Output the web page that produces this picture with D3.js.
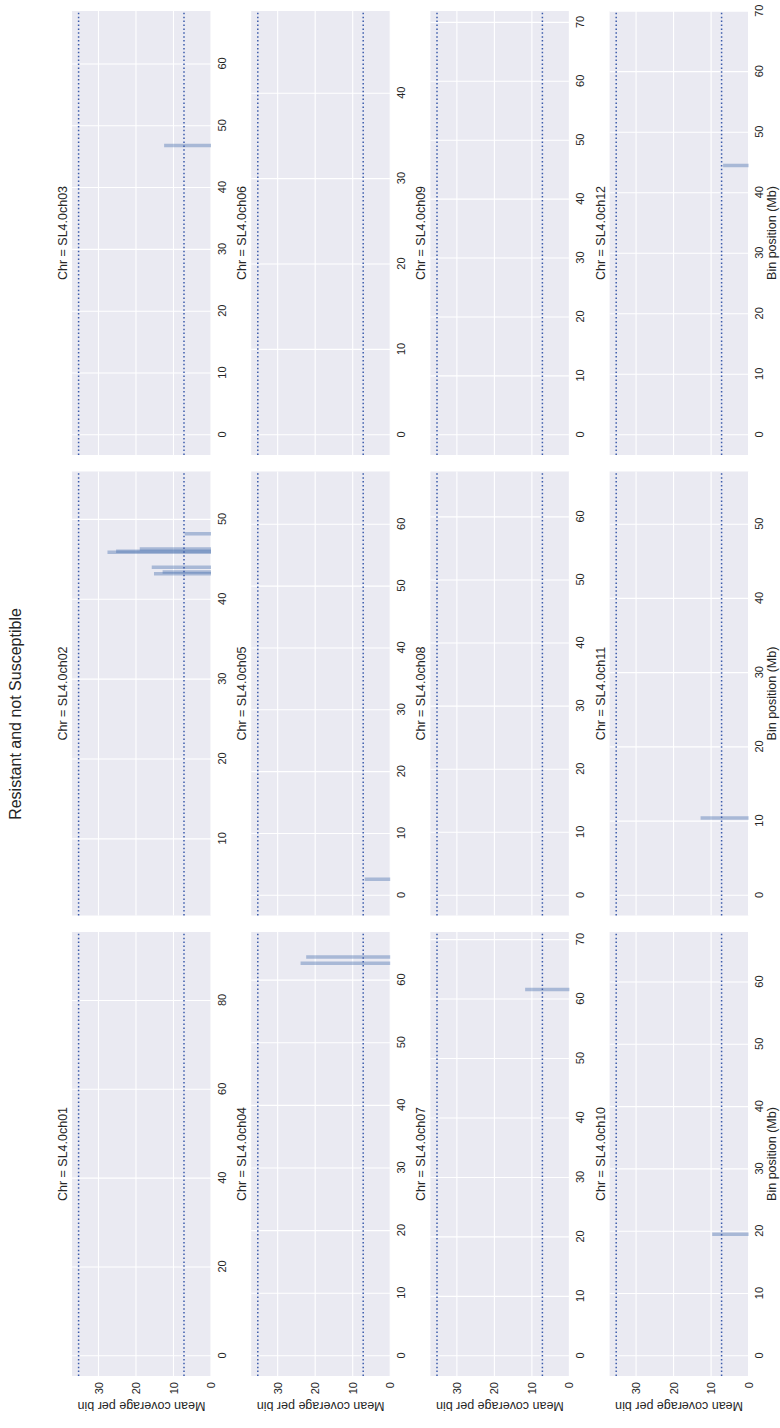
<!DOCTYPE html>
<html>
<head>
<meta charset="utf-8">
<script src="https://cdn.jsdelivr.net/npm/d3@7"></script>
<style>
  body { margin: 0; background: #ffffff; }
  text { font-family: "Liberation Sans", Arial, sans-serif; }
</style>
</head>
<body>
<svg id="chart" width="780" height="1428"></svg>
<script>
// ---- data ----
const chromosomes = ["SL4.0ch01", "SL4.0ch02", "SL4.0ch03", "SL4.0ch04", "SL4.0ch05", "SL4.0ch06",
                     "SL4.0ch07", "SL4.0ch08", "SL4.0ch09", "SL4.0ch10", "SL4.0ch11", "SL4.0ch12"];
// first and last bin of each chromosome (Mb)
const binStart = [0, 2.93, 0, 0, 0, 0, 0, 0, 0, 0, 0, 0];
const binEnd = [90.86, 53.47, 65.30, 64.46, 65.27, 47.26, 67.88, 64.00, 68.51, 64.79, 54.38, 66.69];

const positionTicks = [
  [0, 20, 40, 60, 80],
  [10, 20, 30, 40, 50],
  [0, 10, 20, 30, 40, 50, 60],
  [0, 10, 20, 30, 40, 50, 60],
  [0, 10, 20, 30, 40, 50, 60],
  [0, 10, 20, 30, 40],
  [0, 10, 20, 30, 40, 50, 60, 70],
  [0, 10, 20, 30, 40, 50, 60],
  [0, 10, 20, 30, 40, 50, 60, 70],
  [0, 10, 20, 30, 40, 50, 60],
  [0, 10, 20, 30, 40, 50],
  [0, 10, 20, 30, 40, 50, 60, 70]
];
const coverageTicks = [0, 10, 20, 30];
const coverageMax = 37.06;
const upperThreshold = 35.3;
const lowerThreshold = 7.2;

// bins passing the filter: position (Mb) and mean coverage
const hitPositions = [
  [],
  [43.2, 43.4, 44.0, 45.9, 46.0, 46.3, 48.2],
  [46.8],
  [62.7, 63.7],
  [2.6],
  [],
  [61.6],
  [],
  [],
  [19.5],
  [10.4],
  [44.5]
];
const hitCoverage = [
  [],
  [15.2, 12.9, 15.8, 27.6, 25.3, 19.0, 7.0],
  [12.5],
  [23.9, 22.4],
  [6.8],
  [],
  [11.8],
  [],
  [],
  [9.7],
  [12.8],
  [6.8]
];

// ---- layout (landscape figure, turned a quarter to fit the page) ----
const figW = 1428;
const colLeft = [52, 512.5, 973];
const rowTop = [72, 251.2, 430.4, 609.6];
const panelW = 444, panelH = 139;
const ink = "#262626";

const svg = d3.select("#chart");
const fig = svg.append("g").attr("transform", `translate(0,${figW}) rotate(-90)`);

fig.append("text")
  .attr("x", figW / 2).attr("y", 21)
  .attr("text-anchor", "middle")
  .attr("font-size", 16)
  .attr("fill", ink)
  .text("Resistant and not Susceptible");

chromosomes.forEach((chr, i) => {
  const r = Math.floor(i / 3), c = i % 3;
  const pad = 0.05 * (binEnd[i] - binStart[i]);
  const x = d3.scaleLinear().domain([binStart[i] - pad, binEnd[i] + pad]).range([0, panelW]);
  const y = d3.scaleLinear().domain([0, coverageMax]).range([panelH, 0]);

  const g = fig.append("g").attr("transform", `translate(${colLeft[c]},${rowTop[r]})`);

  g.append("rect").attr("width", panelW).attr("height", panelH).attr("fill", "#eaeaf2");

  // grid
  g.selectAll(null).data(positionTicks[i]).join("line")
    .attr("x1", d => x(d)).attr("x2", d => x(d))
    .attr("y1", 0).attr("y2", panelH)
    .attr("stroke", "#ffffff").attr("stroke-width", 1.1);
  g.selectAll(null).data(coverageTicks).join("line")
    .attr("x1", 0).attr("x2", panelW)
    .attr("y1", d => y(d)).attr("y2", d => y(d))
    .attr("stroke", "#ffffff").attr("stroke-width", 1.1);

  // coverage of each retained bin
  g.selectAll(null).data(d3.zip(hitPositions[i], hitCoverage[i])).join("line")
    .attr("x1", d => x(d[0])).attr("x2", d => x(d[0]))
    .attr("y1", y(0)).attr("y2", d => y(d[1]))
    .attr("stroke", "#4c72b0").attr("stroke-opacity", 0.42)
    .attr("stroke-width", 3.5);

  // coverage thresholds
  g.selectAll(null).data([upperThreshold, lowerThreshold]).join("line")
    .attr("x1", 0).attr("x2", panelW)
    .attr("y1", d => y(d)).attr("y2", d => y(d))
    .attr("stroke", "#3b5bab").attr("stroke-width", 1.5)
    .attr("stroke-dasharray", "1.5,2.4");

  // panel title
  g.append("text")
    .attr("x", panelW / 2).attr("y", -5)
    .attr("text-anchor", "middle")
    .attr("font-size", 12.5).attr("fill", ink)
    .text(`Chr = ${chr}`);

  // position axis
  const xa = g.append("g").attr("transform", `translate(0,${panelH})`)
    .call(d3.axisBottom(x).tickValues(positionTicks[i]).tickSize(0).tickPadding(7).tickFormat(d3.format("d")));
  xa.select(".domain").remove();
  xa.selectAll("text").attr("font-size", 11).attr("fill", ink).style("font-family", "Liberation Sans, Arial, sans-serif");

  if (c === 0) {
    const ya = g.append("g")
      .call(d3.axisLeft(y).tickValues(coverageTicks).tickSize(0).tickPadding(6).tickFormat(d3.format("d")));
    ya.select(".domain").remove();
    ya.selectAll("text").attr("font-size", 11).attr("fill", ink).style("font-family", "Liberation Sans, Arial, sans-serif");
    g.append("text")
      .attr("transform", `translate(-26,${panelH / 2}) rotate(-90)`)
      .attr("text-anchor", "middle")
      .attr("font-size", 12.5).attr("fill", ink)
      .text("Mean coverage per bin");
  }

  if (r === 3) {
    g.append("text")
      .attr("x", panelW / 2).attr("y", panelH + 27)
      .attr("text-anchor", "middle")
      .attr("font-size", 12.5).attr("fill", ink)
      .text("Bin position (Mb)");
  }
});
</script>
</body>
</html>
